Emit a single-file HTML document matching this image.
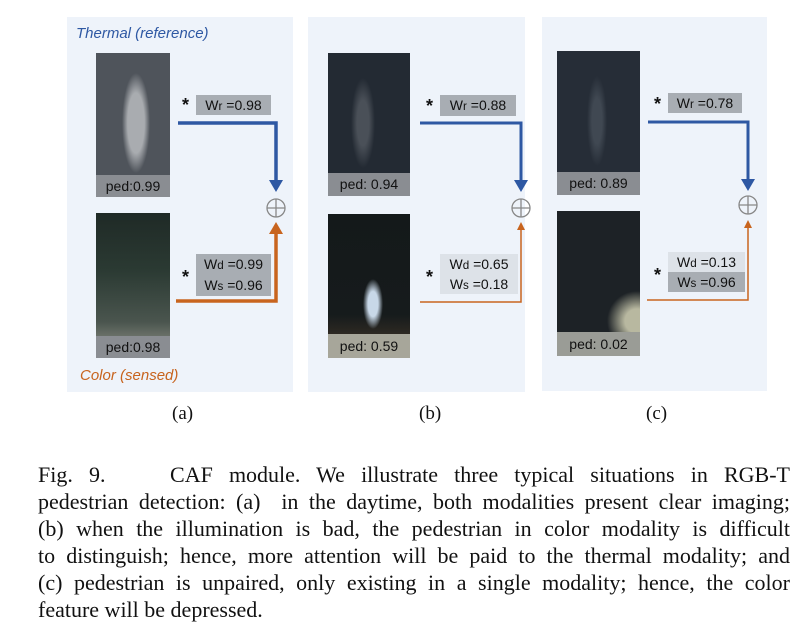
<!DOCTYPE html>
<html><head><meta charset="utf-8"><style>
body{margin:0;width:807px;height:632px;background:#fff;position:relative;overflow:hidden;font-family:"Liberation Sans",sans-serif}
.a{position:absolute}
.panel{position:absolute;background:#eef3fa}
.img{position:absolute;overflow:hidden}
.lab{position:absolute;left:0;right:0;bottom:0;height:22px;background:#8a8d92;color:#111;font-size:14px;text-align:center;line-height:22px}
.box{position:absolute;font-size:14px;text-align:center;color:#111;line-height:20px}
.star{position:absolute;font-size:18px;font-weight:bold;color:#111}
.cap{position:absolute;left:38px;width:752px;font-family:"Liberation Serif",serif;font-size:22px;color:#111;text-align:justify;text-align-last:justify;white-space:nowrap;height:27px;line-height:27px}
.sub{position:absolute;font-family:"Liberation Serif",serif;font-size:19px;color:#111}
</style></head><body>
<div class="panel" style="left:67px;top:17px;width:226px;height:375px"></div>
<div class="panel" style="left:308px;top:17px;width:217px;height:375px"></div>
<div class="panel" style="left:542px;top:17px;width:225px;height:374px"></div>

<div class="a" style="left:76px;top:25px;color:#2e58a3;font-style:italic;font-size:15px">Thermal (reference)</div>
<div class="a" style="left:80px;top:367px;color:#c8641e;font-style:italic;font-size:15px">Color (sensed)</div>

<!-- images a -->
<div class="img" style="left:96px;top:53px;width:74px;height:144px;background:radial-gradient(ellipse 14px 50px at 40px 70px,#a9acb0 60%,transparent 100%),#4f545b"><div class="lab">ped:0.99</div></div>
<div class="img" style="left:96px;top:213px;width:74px;height:145px;background:linear-gradient(180deg,#1f2a26 0%,#2b3a33 40%,#4a554e 75%,#6a7068 85%,#3c423e 100%)"><div class="lab">ped:0.98</div></div>
<!-- images b -->
<div class="img" style="left:328px;top:53px;width:82px;height:143px;background:radial-gradient(ellipse 12px 45px at 35px 70px,#4a5058 50%,transparent 100%),#232a33"><div class="lab" style="height:23px;line-height:23px">ped: 0.94</div></div>
<div class="img" style="left:328px;top:214px;width:82px;height:144px;background:radial-gradient(ellipse 10px 25px at 45px 90px,#c8d8e8 50%,transparent 100%),linear-gradient(180deg,#14191a 0%,#161b1c 70%,#4a3a2a 100%)"><div class="lab" style="height:24px;line-height:24px;background:#a7a69a">ped: 0.59</div></div>
<!-- images c -->
<div class="img" style="left:557px;top:51px;width:83px;height:144px;background:radial-gradient(ellipse 10px 45px at 40px 70px,#404852 50%,transparent 100%),#262d37"><div class="lab" style="height:23px;line-height:23px">ped: 0.89</div></div>
<div class="img" style="left:557px;top:211px;width:83px;height:145px;background:radial-gradient(ellipse 30px 30px at 80px 110px,#b8b8a0 40%,transparent 100%),#1d2226"><div class="lab" style="height:24px;line-height:24px;background:#9a9c96">ped: 0.02</div></div>

<!-- boxes -->
<div class="box" style="left:196px;top:95px;width:75px;height:20px;background:#a8adb3">W<small>r</small> =0.98</div>
<div class="box" style="left:196px;top:254px;width:75px;height:21px;background:#a8adb3">W<small>d</small> =0.99</div>
<div class="box" style="left:196px;top:275px;width:75px;height:21px;background:#a8adb3">W<small>s</small> =0.96</div>
<div class="box" style="left:440px;top:95px;width:76px;height:21px;background:#a8adb3">W<small>r</small> =0.88</div>
<div class="box" style="left:440px;top:254px;width:78px;height:20px;background:#dde2e8">W<small>d</small> =0.65</div>
<div class="box" style="left:440px;top:274px;width:78px;height:20px;background:#dde2e8">W<small>s</small> =0.18</div>
<div class="box" style="left:668px;top:93px;width:74px;height:20px;background:#a8adb3">W<small>r</small> =0.78</div>
<div class="box" style="left:668px;top:252px;width:77px;height:20px;background:#dde2e8">W<small>d</small> =0.13</div>
<div class="box" style="left:668px;top:272px;width:77px;height:20px;background:#a8adb3">W<small>s</small> =0.96</div>

<div class="star" style="left:182px;top:95px">*</div>
<div class="star" style="left:182px;top:267px">*</div>
<div class="star" style="left:426px;top:96px">*</div>
<div class="star" style="left:426px;top:267px">*</div>
<div class="star" style="left:654px;top:94px">*</div>
<div class="star" style="left:654px;top:265px">*</div>

<svg class="a" style="left:0;top:0" width="807" height="632">
<g fill="none" stroke-linejoin="miter">
<polyline points="178,123 276,123 276,182" stroke="#2e58a3" stroke-width="3.5"/>
<polyline points="176,301 276,301 276,232" stroke="#c8641e" stroke-width="3.5"/>
<polyline points="420,123 521,123 521,182" stroke="#2e58a3" stroke-width="3"/>
<polyline points="420,302 521,302 521,230" stroke="#c8641e" stroke-width="1.5"/>
<polyline points="648,122 748,122 748,181" stroke="#2e58a3" stroke-width="3"/>
<polyline points="647,300 748,300 748,228" stroke="#c8641e" stroke-width="1.5"/>
<circle cx="276" cy="208" r="9" stroke="#888" stroke-width="1.3"/><path d="M267 208h18M276 199v18" stroke="#888" stroke-width="1.3"/>
<circle cx="521" cy="208" r="9" stroke="#888" stroke-width="1.3"/><path d="M512 208h18M521 199v18" stroke="#888" stroke-width="1.3"/>
<circle cx="748" cy="205" r="9" stroke="#888" stroke-width="1.3"/><path d="M739 205h18M748 196v18" stroke="#888" stroke-width="1.3"/>
</g>
<polygon points="269,180 283,180 276,192" fill="#2e58a3"/>
<polygon points="269,234 283,234 276,222" fill="#c8641e"/>
<polygon points="514,180 528,180 521,192" fill="#2e58a3"/>
<polygon points="517,230 525,230 521,222" fill="#c8641e"/>
<polygon points="741,179 755,179 748,191" fill="#2e58a3"/>
<polygon points="744,228 752,228 748,220" fill="#c8641e"/>
</svg>

<div class="sub" style="left:172px;top:403px">(a)</div>
<div class="sub" style="left:419px;top:403px">(b)</div>
<div class="sub" style="left:646px;top:403px">(c)</div>

<div class="cap" style="top:461px">Fig. 9. &nbsp;&nbsp; CAF module. We illustrate three typical situations in RGB-T</div>
<div class="cap" style="top:488px">pedestrian detection: (a) &nbsp;in the daytime, both modalities present clear imaging;</div>
<div class="cap" style="top:515px">(b) when the illumination is bad, the pedestrian in color modality is difficult</div>
<div class="cap" style="top:542px">to distinguish; hence, more attention will be paid to the thermal modality; and</div>
<div class="cap" style="top:569px">(c) pedestrian is unpaired, only existing in a single modality; hence, the color</div>
<div class="cap" style="top:596px;text-align-last:left">feature will be depressed.</div>
</body></html>
